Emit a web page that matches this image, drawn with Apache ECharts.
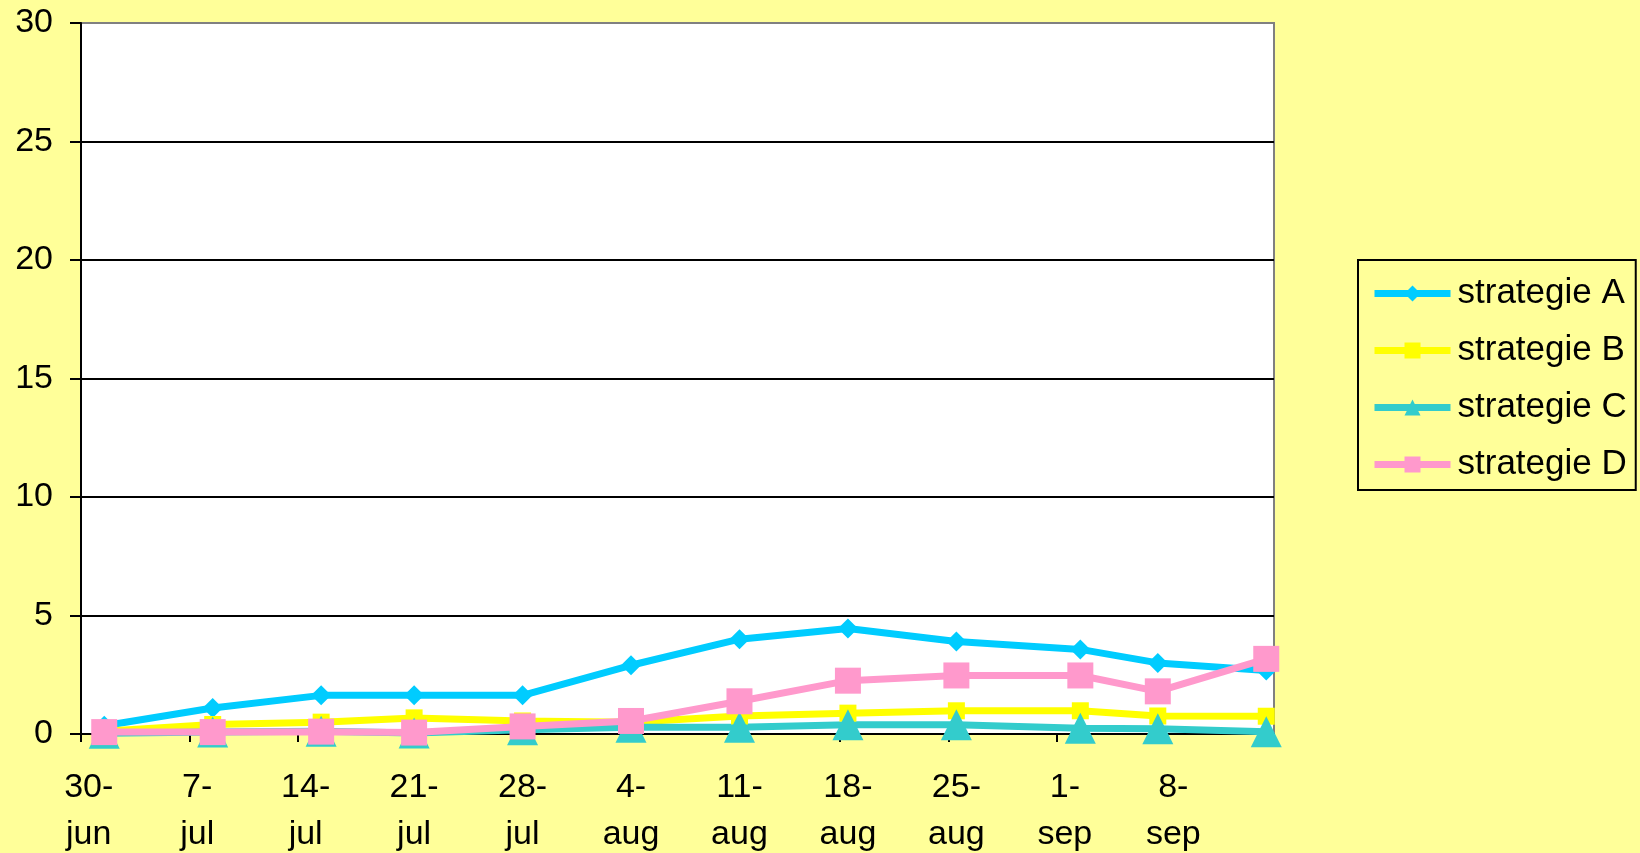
<!DOCTYPE html>
<html>
<head>
<meta charset="utf-8">
<script src="https://cdn.jsdelivr.net/npm/echarts@6/dist/echarts.min.js"></script>
<style>
html,body{margin:0;padding:0;background:#FFFF99;}
#c{width:1640px;height:853px;}
</style>
</head>
<body>
<div id="c"></div>
<script>
// axis: daily categories from 30-jun to 14-sep, labels every 7 days
const monthNames = ['jun', 'jul', 'aug', 'sep'];
const monthStart = [30, 1, 1, 1];
const monthEnd = [30, 31, 31, 14];
const tickLabels = ['30-jun','7-jul','14-jul','21-jul','28-jul','4-aug','11-aug','18-aug','25-aug','1-sep','8-sep'];
const yTicks = [0, 5, 10, 15, 20, 25, 30];

// measurement dates and values
const dates = ['1-jul','8-jul','15-jul','21-jul','28-jul','4-aug','11-aug','18-aug','25-aug','2-sep','7-sep','14-sep'];
const strategieA = [0.35, 1.1, 1.63, 1.63, 1.63, 2.9, 4.0, 4.45, 3.9, 3.57, 3.0, 2.68];
const strategieB = [0.12, 0.4, 0.5, 0.68, 0.55, 0.5, 0.76, 0.88, 0.98, 0.98, 0.76, 0.75];
const strategieC = [0.03, 0.08, 0.12, 0.04, 0.18, 0.28, 0.28, 0.39, 0.39, 0.24, 0.22, 0.1];
const strategieD = [0.08, 0.08, 0.1, 0.06, 0.32, 0.55, 1.38, 2.25, 2.47, 2.47, 1.8, 3.17];

const days = [];
monthNames.forEach((m, i) => {
  for (let d = monthStart[i]; d <= monthEnd[i]; d++) days.push(d + '-' + m);
});

function pairs(vals) {
  return dates.map((d, i) => [days.indexOf(d), vals[i]]);
}

const FONT = '"Liberation Sans", Arial, sans-serif';
const showTick = (idx) => tickLabels.indexOf(days[idx]) >= 0;

const chart = echarts.init(document.getElementById('c'));
const mk = (name, vals, color, symbol, size) => ({
  name, type: 'line', data: pairs(vals),
  symbol, symbolSize: size,
  showSymbol: true, showAllSymbol: true,
  lineStyle: { color, width: 7 },
  itemStyle: { color, borderWidth: 0 },
  emphasis: { disabled: true },
  animation: false
});

chart.setOption({
  backgroundColor: '#FFFF99',
  animation: false,
  textStyle: { fontFamily: FONT },
  grid: {
    left: 81, right: 366, top: 23, bottom: 119,
    containLabel: false, outerBoundsMode: 'none',
    show: true, backgroundColor: '#FFFFFF', borderColor: '#808080', borderWidth: 2
  },
  legend: {
    orient: 'vertical',
    left: 1358, top: 260,
    padding: [14, 9, 6, 13],
    itemWidth: 76, itemHeight: 20, itemGap: 18,
    borderColor: '#000', borderWidth: 2,
    backgroundColor: '#FFFF99',
    lineStyle: { width: 7 },
    textStyle: { fontSize: 35, fontFamily: FONT, color: '#000', lineHeight: 39, padding: [0, 0, 0, 2] },
    data: ['strategie A', 'strategie B', 'strategie C', 'strategie D']
  },
  xAxis: {
    type: 'category',
    data: days,
    boundaryGap: true,
    axisLine: { lineStyle: { color: '#000', width: 2 } },
    axisTick: { show: true, interval: showTick, length: 8, lineStyle: { color: '#000', width: 2 } },
    axisLabel: {
      interval: showTick,
      formatter: (v) => v.replace('-', '-\n'),
      fontSize: 34, lineHeight: 47, margin: 30, color: '#000', fontFamily: FONT
    },
    splitLine: { show: false }
  },
  yAxis: {
    type: 'value',
    min: yTicks[0], max: yTicks[yTicks.length - 1], interval: 5,
    axisLine: { show: true, lineStyle: { color: '#000', width: 2 } },
    axisTick: { show: true, length: 11, lineStyle: { color: '#000', width: 2 } },
    axisLabel: { fontSize: 34, margin: 28, color: '#000', fontFamily: FONT },
    splitLine: { show: true, showMinLine: false, showMaxLine: false, lineStyle: { color: '#000', width: 2 } }
  },
  series: [
    mk('strategie A', strategieA, '#00CCFF', 'diamond', 20),
    mk('strategie B', strategieB, '#FFFF00', 'rect', 17),
    mk('strategie C', strategieC, '#33CCCC', 'triangle', 31),
    mk('strategie D', strategieD, '#FF99CC', 'rect', 26)
  ]
});
</script>
</body>
</html>
